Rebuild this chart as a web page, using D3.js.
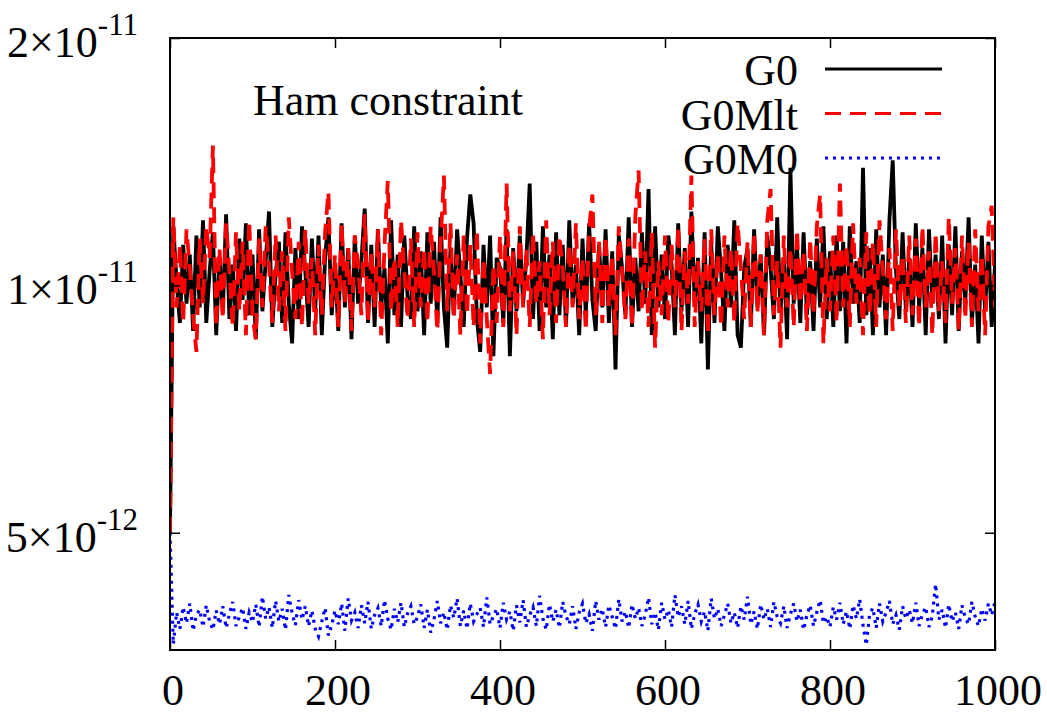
<!DOCTYPE html>
<html>
<head>
<meta charset="utf-8">
<script src="https://cdn.jsdelivr.net/npm/d3@7"></script>
<style>
  body { margin: 0; background: #fff; }
  svg text { font-family: "Liberation Serif", "Times New Roman", serif; fill: #000; }
  .axis .domain { display: none; }
  .axis line { stroke: #000; stroke-width: 1.5; }
</style>
</head>
<body>
<svg id="chart" width="1047" height="716"></svg>
<script>
// values are in units of 1e-12, one every 4 steps (0, 4, 8 ... 1000)
const stepSize = 4;
const scaleUnit = 1e-12;

const g0 = [
  5.0, 11.8, 10.1, 9.0, 11.2, 9.5, 10.9, 8.8, 11.5, 9.4, 12.0, 9.0, 10.4, 11.6, 8.7, 10.8, 9.3, 12.2, 9.1, 10.6, 8.8, 11.4, 9.6, 11.9, 9.2,
  10.9, 8.6, 11.7, 9.3, 10.7, 12.3, 8.9, 10.3, 11.3, 9.0, 11.6, 9.5, 8.5, 11.1, 9.1, 11.8, 10.4, 8.9, 11.4, 9.3, 11.5, 8.7, 10.8, 12.1, 9.2,
  10.6, 8.8, 11.9, 9.4, 11.1, 8.6, 11.5, 9.5, 10.7, 12.4, 9.0, 11.2, 8.9, 11.7, 9.4, 10.5, 8.5, 12.0, 9.2, 10.9, 8.9, 11.5, 9.7, 9.1, 11.8,
  9.3, 11.0, 8.7, 11.6, 9.5, 11.3, 9.0, 12.1, 9.4, 8.4, 11.1, 9.2, 11.7, 10.3, 8.9, 11.4, 12.9, 11.9, 9.1, 8.3, 11.2, 9.4, 11.5, 8.2, 10.8,
  10.5, 9.0, 11.7, 8.2, 11.1, 9.3, 11.5, 9.5, 10.8, 13.3, 9.1, 11.3, 8.8, 11.8, 9.4, 10.9, 8.6, 11.6, 9.2, 11.2, 8.9, 12.0, 9.5, 10.6, 8.7,
  11.4, 9.2, 11.9, 9.6, 8.8, 11.2, 9.4, 11.7, 9.0, 11.0, 7.9, 11.5, 10.5, 9.2, 12.1, 8.9, 10.8, 9.3, 11.6, 9.5, 13.1, 8.7, 11.8, 9.4, 10.9,
  9.1, 11.5, 10.6, 8.7, 11.9, 9.3, 11.1, 8.9, 12.3, 9.5, 10.8, 8.5, 11.6, 7.9, 11.3, 9.0, 11.8, 10.4, 8.8, 11.2, 9.4, 12.0, 8.7, 8.4, 10.5,
  11.1, 8.9, 11.7, 9.4, 10.9, 8.7, 11.5, 10.5, 9.1, 12.1, 9.3, 10.8, 8.6, 13.9, 9.5, 11.2, 9.0, 11.6, 9.2, 10.7, 8.8, 11.4, 9.4, 11.8, 9.1,
  11.0, 8.9, 11.5, 9.3, 11.3, 8.5, 11.8, 9.5, 10.7, 9.0, 13.9, 9.2, 11.1, 8.7, 11.7, 9.4, 10.9, 8.7, 12.0, 14.2, 10.4, 9.1, 11.6, 9.3, 10.8,
  8.9, 11.9, 9.4, 11.1, 8.7, 11.7, 9.5, 10.9, 9.1, 11.5, 8.5, 11.2, 9.2, 11.8, 8.8, 11.0, 9.5, 12.1, 9.0, 10.6, 8.5, 11.5, 9.3, 11.3, 8.9,
  10.6
];

const g0mlt = [
  5.0, 12.1, 9.4, 11.2, 9.0, 11.7, 10.5, 9.2, 8.3, 11.4, 9.5, 11.8, 10.8, 14.8, 8.9, 11.1, 9.1, 11.9, 10.4, 8.9, 11.6, 9.3, 11.3, 8.7, 12.0,
  9.2, 8.6, 11.4, 9.4, 11.8, 10.6, 9.0, 11.5, 9.3, 11.0, 8.8, 12.1, 10.4, 9.1, 11.3, 8.9, 11.7, 9.5, 10.8, 8.7, 11.2, 9.2, 11.6, 13.0, 9.4,
  10.9, 8.9, 11.9, 9.5, 11.1, 8.8, 11.5, 10.6, 9.2, 12.2, 9.0, 11.0, 9.4, 11.7, 8.7, 11.2, 13.4, 9.3, 10.8, 8.9, 12.0, 10.4, 9.1, 11.4, 8.9,
  11.6, 9.4, 11.1, 9.0, 11.8, 10.4, 8.8, 11.3, 13.6, 9.3, 11.9, 9.1, 10.9, 8.7, 11.5, 9.2, 11.2, 8.9, 11.7, 8.5, 10.8, 9.1, 7.8, 10.6, 9.0,
  11.5, 8.9, 13.3, 9.3, 11.0, 8.7, 11.8, 9.4, 11.1, 8.9, 11.6, 9.5, 10.7, 8.6, 12.0, 9.2, 11.3, 9.0, 11.5, 10.5, 8.9, 11.2, 9.4, 11.9, 9.1,
  10.8, 8.8, 11.7, 12.9, 9.2, 11.3, 9.0, 11.5, 9.4, 10.9, 8.7, 11.8, 10.4, 9.1, 11.4, 8.9, 12.1, 13.8, 9.3, 11.0, 8.9, 11.6, 8.4, 10.7, 9.2,
  11.5, 9.0, 11.2, 9.4, 11.8, 8.8, 11.0, 9.5, 13.6, 8.9, 10.7, 9.3, 11.4, 8.7, 11.7, 9.2, 10.9, 8.9, 11.5, 9.4, 11.1, 9.0, 11.9, 10.5, 9.1,
  11.3, 8.9, 11.6, 9.3, 10.9, 8.7, 12.0, 13.1, 9.2, 10.7, 8.4, 11.5, 9.4, 11.1, 8.9, 11.7, 9.5, 11.0, 8.8, 11.4, 9.2, 11.8, 12.9, 8.5, 10.8,
  9.3, 11.5, 9.0, 13.3, 9.4, 11.2, 8.9, 11.9, 9.5, 10.8, 8.7, 11.6, 9.2, 11.3, 8.9, 12.0, 10.5, 9.1, 11.1, 8.8, 11.7, 9.4, 10.9, 9.0, 11.5,
  9.2, 11.4, 8.9, 11.8, 9.4, 11.0, 8.7, 11.6, 9.3, 10.7, 9.0, 12.1, 9.5, 11.1, 8.8, 11.5, 9.1, 11.3, 8.9, 11.7, 9.3, 10.9, 8.7, 11.8, 12.5,
  9.4
];

const g0m0 = [
  5.0, 3.66, 4.00, 3.82, 4.06, 3.88, 4.10, 3.80, 3.97, 4.03, 3.84, 4.08, 3.90, 3.81, 4.02, 3.87, 4.07, 3.83, 3.98, 4.12, 3.85, 3.95, 4.05, 3.82, 4.00,
  3.89, 4.09, 3.84, 4.18, 3.93, 4.06, 3.83, 4.13, 3.90, 4.04, 3.81, 4.20, 3.99, 3.86, 4.14, 3.92, 4.07, 3.85, 4.02, 3.82, 3.74, 3.90, 4.05, 3.75, 3.86,
  4.02, 3.87, 4.10, 3.80, 4.16, 3.91, 4.00, 3.83, 4.08, 3.88, 4.12, 3.82, 3.97, 4.05, 3.85, 4.14, 3.93, 3.81, 4.04, 3.89, 4.11, 3.84, 3.99, 4.07, 3.87,
  3.95, 4.09, 3.83, 4.03, 3.78, 3.92, 4.13, 3.88, 4.00, 3.81, 4.08, 3.94, 4.16, 3.85, 4.02, 3.82, 4.10, 3.90, 3.98, 4.05, 3.84, 4.17, 3.87, 3.96, 4.04,
  3.83, 4.11, 3.92, 4.01, 3.80, 4.08, 3.89, 4.14, 3.84, 3.97, 4.06, 3.85, 4.19, 3.93, 3.81, 4.09, 3.90, 4.03, 3.83, 4.12, 3.96, 3.87, 4.07, 3.82, 4.00,
  4.10, 3.88, 3.98, 3.80, 4.13, 3.92, 4.04, 3.84, 4.08, 3.95, 3.82, 4.15, 3.90, 4.01, 3.83, 4.09, 3.93, 4.05, 3.85, 3.97, 4.17, 3.87, 4.00, 3.81, 4.11,
  3.92, 4.03, 3.84, 4.20, 3.95, 4.07, 3.87, 4.13, 3.82, 3.98, 4.09, 3.90, 4.01, 3.80, 4.16, 3.93, 4.04, 3.85, 3.97, 4.10, 3.88, 4.00, 3.83, 4.07, 3.92,
  4.18, 3.87, 4.01, 3.82, 4.09, 3.92, 4.04, 3.84, 4.12, 3.95, 3.88, 4.07, 3.83, 3.98, 4.10, 3.90, 4.03, 3.81, 3.97, 4.08, 3.85, 4.00, 4.14, 3.88, 3.95,
  3.84, 4.06, 3.92, 4.11, 3.87, 4.01, 3.82, 4.08, 3.93, 4.15, 3.86, 3.65, 3.98, 4.05, 3.83, 4.10, 3.90, 4.00, 4.13, 3.87, 3.97, 3.81, 4.07, 3.93, 4.03,
  3.88, 4.11, 3.85, 3.98, 4.06, 3.84, 3.96, 4.33, 3.92, 4.03, 3.83, 4.09, 3.90, 4.00, 3.82, 4.08, 3.94, 3.87, 4.12, 3.95, 3.85, 4.04, 3.91, 4.10, 3.97,
  4.12
];

const seriesNames = ["G0", "G0Mlt", "G0M0"];
const seriesColors = ["#000000", "#ff0000", "#0000ff"];
const seriesDash = [null, "16,9", "3,5"];
const seriesWidth = [3.8, 3.8, 3.2];

const xTicks = [0, 200, 400, 600, 800, 1000];
const yTicks = [5e-12, 1e-11, 2e-11];
const yTickMant = ["5", "1", "2"];
const yTickExp = ["-12", "-11", "-11"];
const titleText = "Ham constraint";

const margin = {top: 38, right: 52, bottom: 66, left: 170};
const width = 1047 - margin.left - margin.right;
const height = 716 - margin.top - margin.bottom;

const svg = d3.select("#chart");

let x = d3.scaleLinear().domain([0, 1000]).range([0, width]);
let y = d3.scaleLog().domain([3.6e-12, 2e-11]).range([height, 0]);

let plot = svg.append("g")
    .attr("transform", "translate(" + margin.left + "," + margin.top + ")");

plot.append("clipPath").attr("id", "clip")
    .append("rect").attr("width", width).attr("height", height);

/* data lines, black first so red sits on top */
let line = d3.line()
    .x(function(d, i) { return x(i * stepSize); })
    .y(function(d) { return y(d * scaleUnit); });

[g0, g0mlt, g0m0].forEach(function(vals, s) {
    plot.append("path")
        .datum(vals)
        .attr("clip-path", "url(#clip)")
        .attr("fill", "none")
        .attr("stroke", seriesColors[s])
        .attr("stroke-width", seriesWidth[s])
        .attr("stroke-dasharray", seriesDash[s])
        .attr("d", line);
});

/* ticks on all four sides, pointing inward */
plot.append("g").attr("class", "axis")
    .attr("transform", "translate(0," + height + ")")
    .call(d3.axisBottom(x).tickValues(xTicks).tickSize(-10).tickFormat(""));
plot.append("g").attr("class", "axis")
    .call(d3.axisTop(x).tickValues(xTicks).tickSize(-10).tickFormat(""));
plot.append("g").attr("class", "axis")
    .call(d3.axisLeft(y).tickValues(yTicks).tickSize(-10).tickFormat(""));
plot.append("g").attr("class", "axis")
    .attr("transform", "translate(" + width + ",0)")
    .call(d3.axisRight(y).tickValues(yTicks).tickSize(-10).tickFormat(""));

plot.append("rect")
    .attr("width", width).attr("height", height)
    .attr("fill", "none").attr("stroke", "#000").attr("stroke-width", 2);

/* x labels */
plot.selectAll("text.xlab")
    .data(xTicks)
    .enter()
    .append("text")
    .attr("class", "xlab")
    .attr("x", function(d) { return x(d) + 3; })
    .attr("y", height + 55)
    .attr("text-anchor", "middle")
    .attr("font-size", "44px")
    .text(function(d) { return d; });

/* y labels with superscript exponent */
let ylab = plot.selectAll("text.ylab")
    .data(yTicks)
    .enter()
    .append("text")
    .attr("class", "ylab")
    .attr("x", -32)
    .attr("y", function(d) { return y(d) + 19; })
    .attr("text-anchor", "end")
    .attr("font-size", "44px");
ylab.append("tspan").text(function(d, i) { return yTickMant[i] + "\u00d710"; });
ylab.append("tspan")
    .attr("dy", -22)
    .attr("font-size", "31px")
    .text(function(d, i) { return yTickExp[i]; });

/* title inside the frame */
svg.append("text")
    .attr("x", 253)
    .attr("y", 115)
    .attr("font-size", "44px")
    .text(titleText);

/* legend */
let legend = svg.append("g");
seriesNames.forEach(function(name, s) {
    let ly = 69 + s * 44.5;
    legend.append("text")
        .attr("x", 798)
        .attr("y", ly + 16)
        .attr("text-anchor", "end")
        .attr("font-size", "44px")
        .text(name);
    legend.append("line")
        .attr("x1", 825).attr("x2", 942)
        .attr("y1", ly).attr("y2", ly)
        .attr("stroke", seriesColors[s])
        .attr("stroke-width", 3)
        .attr("stroke-dasharray", seriesDash[s]);
});
</script>
</body>
</html>
